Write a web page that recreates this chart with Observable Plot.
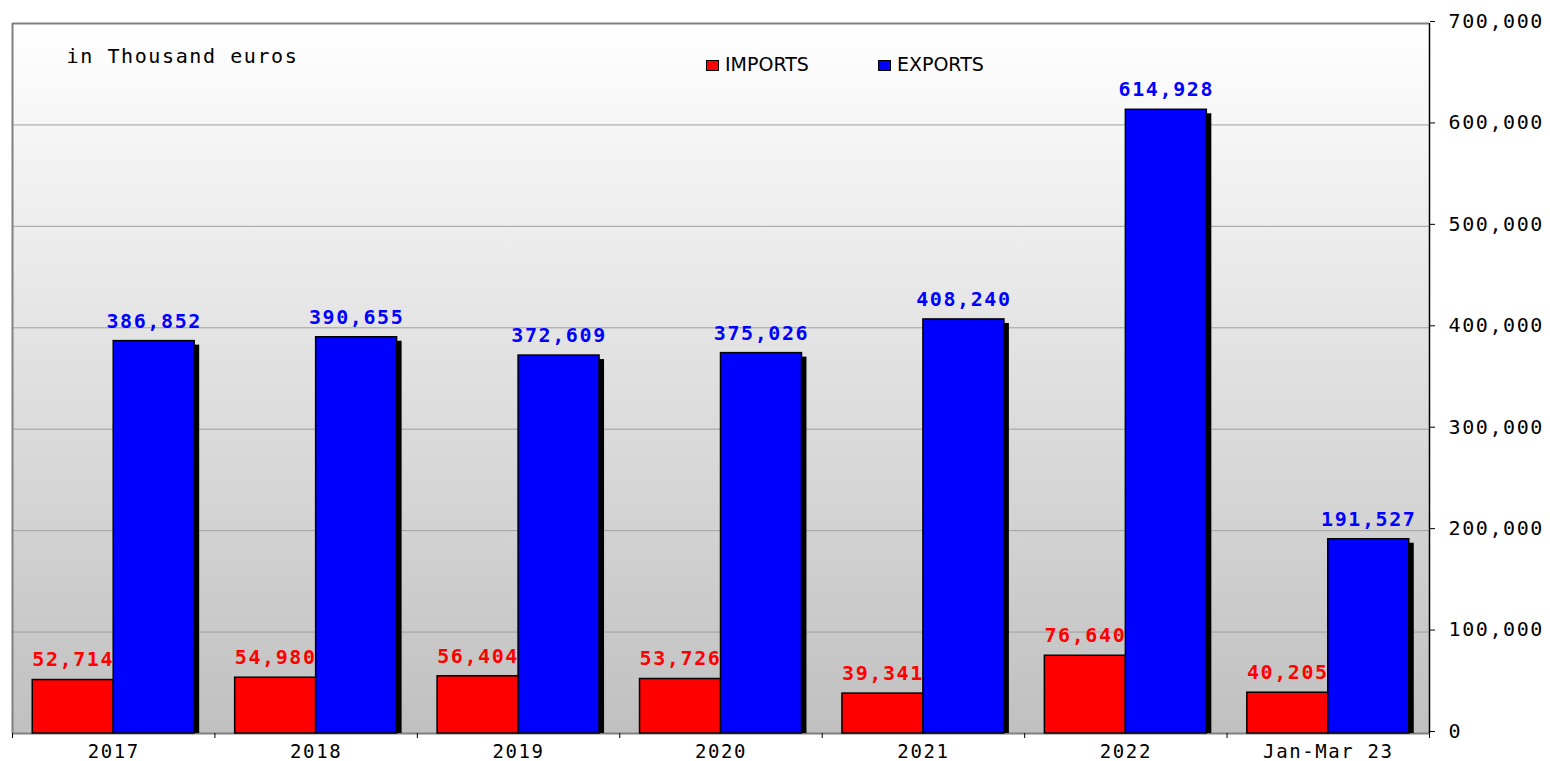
<!DOCTYPE html>
<html>
<head>
<meta charset="utf-8">
<script src="https://cdn.jsdelivr.net/npm/d3@7"></script>
<script src="https://cdn.jsdelivr.net/npm/@observablehq/plot@0.6"></script>
<style>
  html, body { margin: 0; padding: 0; background: #fff; }
  #wrap { position: relative; width: 1550px; height: 761px; }
  #chart svg text { letter-spacing: 1.6px; }
  #legend { position: absolute; top: 53px; left: 706px; font-family: "DejaVu Sans", sans-serif; font-size: 19px; color: #000; display: flex; }
  #legend .item { display: flex; align-items: center; }
  #legend .sw { width: 11px; height: 9px; border: 1.5px solid #000; margin-right: 6px; position: relative; top: 1px; }
</style>
</head>
<body>
<div id="wrap">
  <div id="chart"></div>
  <div id="legend"></div>
</div>
<script>
const categories = ["2017", "2018", "2019", "2020", "2021", "2022", "Jan-Mar 23"];
const imports = [52714, 54980, 56404, 53726, 39341, 76640, 40205];
const exports = [386852, 390655, 372609, 375026, 408240, 614928, 191527];
const seriesNames = ["IMPORTS", "EXPORTS"];
const seriesColors = ["#ff0000", "#0000ff"];
const yTicks = [0, 100000, 200000, 300000, 400000, 500000, 600000, 700000];
const unitLabel = "in Thousand euros";

const rows = categories.map((c, i) => ({cat: c, i, imports: imports[i], exports: exports[i]}));
const fmt = d3.format(",");
const mono = "DejaVu Sans Mono, monospace";

const bg = () => {
  const defs = d3.create("svg:defs");
  const g = defs.append("linearGradient").attr("id", "bgGrad").attr("x1", 0).attr("y1", 0).attr("x2", 0).attr("y2", 1);
  g.append("stop").attr("offset", "0%").attr("stop-color", "#ffffff");
  g.append("stop").attr("offset", "100%").attr("stop-color", "#c0c0c0");
  return defs.node();
};

const chart = Plot.plot({
  width: 1550,
  height: 761,
  marginLeft: 12,
  marginRight: 121,
  marginTop: 23,
  marginBottom: 28,
  style: {fontFamily: mono, background: "transparent"},
  x: {type: "linear", domain: [0, categories.length], axis: null},
  y: {domain: [0, 700000], axis: null},
  marks: [
    bg,
    Plot.frame({fill: "url(#bgGrad)", stroke: "none"}),
    Plot.gridY(yTicks, {stroke: "#a0a0a0", strokeOpacity: 1, strokeWidth: 1}),
    Plot.ruleX([0], {stroke: "#808080", strokeWidth: 2}),
    Plot.ruleY([700000], {stroke: "#808080", strokeWidth: 2}),
    Plot.ruleY([0], {stroke: "#808080", strokeWidth: 2}),
    // shadows for export bars
    Plot.rectY(rows, {x1: d => d.i + 0.5, x2: d => d.i + 0.9, y: "exports", fill: "#000", dx: 5, dy: 4, insetBottom: 4}),
    Plot.rectY(rows, {x1: d => d.i + 0.1, x2: d => d.i + 0.5, y: "imports", fill: seriesColors[0], stroke: "#000", strokeWidth: 1.5}),
    Plot.rectY(rows, {x1: d => d.i + 0.5, x2: d => d.i + 0.9, y: "exports", fill: seriesColors[1], stroke: "#000", strokeWidth: 1.5}),
    Plot.text(rows, {x: d => d.i + 0.3, y: "imports", text: d => fmt(d.imports), fill: seriesColors[0], fontWeight: "bold", fontSize: 20, dy: -20}),
    Plot.text(rows, {x: d => d.i + 0.7, y: "exports", text: d => fmt(d.exports), fill: seriesColors[1], fontWeight: "bold", fontSize: 20, dy: -20}),
    Plot.text([unitLabel], {text: d => d, frameAnchor: "top-left", dx: 54, dy: 25, fontSize: 20, textAnchor: "start", fill: "#000"}),
    // right axis
    Plot.ruleX([categories.length], {stroke: "#000", strokeWidth: 1.5}),
    Plot.axisY({anchor: "right", ticks: yTicks, tickFormat: fmt, tickSize: 5, tickPadding: 14, fontSize: 20, label: null, stroke: "#000", dy: -2}),
    // bottom axis: boundary ticks and centered labels
    Plot.axisX({ticks: d3.range(categories.length + 1), tickFormat: () => "", tickSize: 5, label: null}),
    Plot.axisX({ticks: d3.range(categories.length).map(i => i + 0.5), tickFormat: v => categories[Math.floor(v)], tickSize: 0, tickPadding: 11, fontSize: 19, label: null})
  ]
});
document.getElementById("chart").appendChild(chart);

const legend = document.getElementById("legend");
seriesNames.forEach((n, k) => {
  const it = document.createElement("div");
  it.className = "item";
  it.style.marginRight = k === 0 ? "69px" : "0";
  const sw = document.createElement("div");
  sw.className = "sw";
  sw.style.background = seriesColors[k];
  const t = document.createElement("span");
  t.textContent = n;
  it.appendChild(sw); it.appendChild(t);
  legend.appendChild(it);
});
</script>
</body>
</html>
